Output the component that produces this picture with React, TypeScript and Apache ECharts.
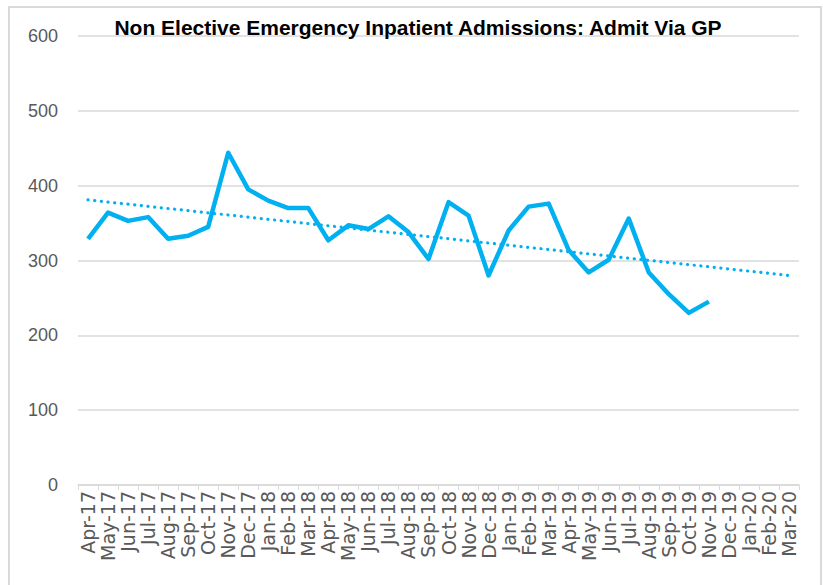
import React, { useEffect, useRef } from "react";
import * as echarts from "echarts";

const TITLE = "Non Elective Emergency Inpatient Admissions: Admit Via GP";

const categories = [
  "Apr-17", "May-17", "Jun-17", "Jul-17", "Aug-17", "Sep-17", "Oct-17", "Nov-17", "Dec-17",
  "Jan-18", "Feb-18", "Mar-18", "Apr-18", "May-18", "Jun-18", "Jul-18", "Aug-18", "Sep-18",
  "Oct-18", "Nov-18", "Dec-18", "Jan-19", "Feb-19", "Mar-19", "Apr-19", "May-19", "Jun-19",
  "Jul-19", "Aug-19", "Sep-19", "Oct-19", "Nov-19", "Dec-19", "Jan-20", "Feb-20", "Mar-20",
];

const admissions = [
  329, 364, 353, 358, 329, 333, 345, 444, 395,
  380, 370, 370, 327, 347, 342, 359, 338, 302,
  378, 360, 280, 340, 372, 376, 314, 284, 301,
  356, 284, 255, 230, 245,
];

// Linear trend line endpoints (first and last category)
const trendStart = 381;
const trendEnd = 280;

const yTicks = { min: 0, max: 600, interval: 100 };

export default function App() {
  const ref = useRef<HTMLDivElement>(null);

  useEffect(() => {
    if (!ref.current) return;
    const chart = echarts.init(ref.current, null, { renderer: "svg" });
    const trend = categories.map((_, i) =>
      i === 0 ? trendStart : i === categories.length - 1 ? trendEnd : null
    );
    chart.setOption({
      animation: false,
      backgroundColor: "#ffffff",
      title: {
        text: TITLE,
        left: 413,
        textAlign: "center",
        top: 12,
        textStyle: {
          fontFamily: "'Liberation Sans Narrow', 'Liberation Sans', Arial, sans-serif",
          fontWeight: "bold",
          fontSize: 21,
          color: "#000000",
        },
      },
      graphic: [
        {
          type: "rect",
          shape: { x: 9, y: 7, width: 812, height: 600 },
          style: { fill: "none", stroke: "#d9d9d9", lineWidth: 2 },
          silent: true,
          z: -1,
        },
      ],
      grid: { left: 78, right: 24, top: 36, bottom: 100 },
      xAxis: {
        type: "category",
        data: categories,
        boundaryGap: true,
        axisLine: { lineStyle: { color: "#d9d9d9", width: 1.5 } },
        axisTick: { show: true, interval: 0, length: 5, lineStyle: { color: "#d9d9d9" } },
        axisLabel: {
          interval: 0,
          rotate: 90,
          margin: 6,
          fontFamily: "'DejaVu Sans', sans-serif",
          fontSize: 19,
          color: "#595959",
        },
      },
      yAxis: {
        type: "value",
        min: yTicks.min,
        max: yTicks.max,
        interval: yTicks.interval,
        axisLine: { show: false },
        axisTick: { show: false },
        splitLine: { lineStyle: { color: "#d9d9d9", width: 1.5 } },
        axisLabel: {
          margin: 20,
          fontFamily: "'Liberation Sans', Arial, sans-serif",
          fontSize: 18,
          color: "#595959",
        },
      },
      series: [
        {
          name: "Admit Via GP",
          type: "line",
          data: admissions,
          symbol: "none",
          lineStyle: { color: "#00B0F0", width: 4.5, join: "round" },
          z: 3,
        },
        {
          name: "Trend",
          type: "line",
          data: trend,
          connectNulls: true,
          symbol: "none",
          lineStyle: { color: "#00B0F0", width: 3.2, type: [0.1, 6.6], cap: "round" },
          z: 2,
        },
      ],
    });
    return () => chart.dispose();
  }, []);

  return (
    <div
      ref={ref}
      style={{ position: "fixed", left: 0, top: 0, width: 823, height: 585 }}
    />
  );
}
